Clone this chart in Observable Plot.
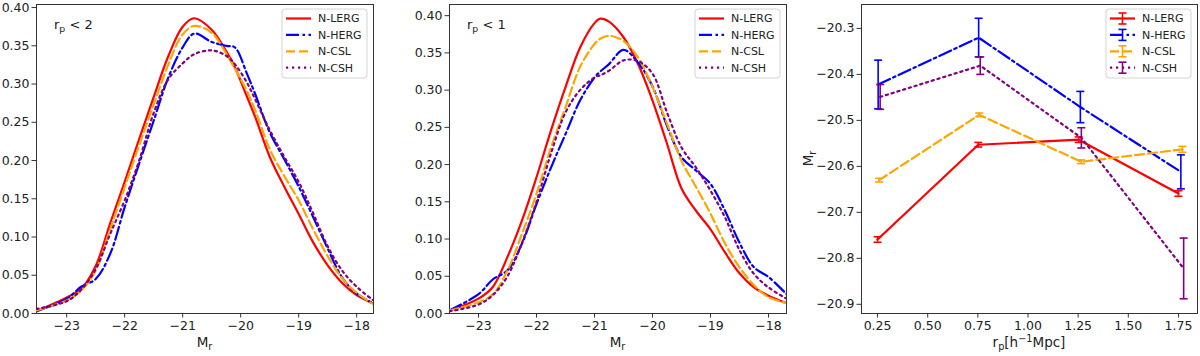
<!DOCTYPE html>
<html><head><meta charset="utf-8">
<script src="https://cdn.jsdelivr.net/npm/d3@7"></script>
<script src="https://cdn.jsdelivr.net/npm/@observablehq/plot@0.6"></script>
<style>
html,body{margin:0;padding:0;background:#fff;}
#wrap{position:relative;width:1200px;height:356px;overflow:hidden;background:#fff;}
.panel{position:absolute;top:0;width:400px;height:356px;}
</style></head><body>
<div id="wrap">
  <div class="panel" id="p1" style="left:0px"></div>
  <div class="panel" id="p2" style="left:400px"></div>
  <div class="panel" id="p3" style="left:800px"></div>
</div>
<script>
// ---------------- data ----------------
const seriesNames = ["N-LERG", "N-HERG", "N-CSL", "N-CSH"];

// Panel 1 : r_p < 2  (KDE of M_r)
const kdeX1 = [-23.52, -23, -22.75, -22.5, -22.25, -22, -21.75, -21.5, -21.25, -21, -20.8, -20.5, -20.25, -20.1, -19.9, -19.75, -19.5, -19.25, -19, -18.75, -18.5, -18.25, -18, -17.71];
const lergP1 = [0.003, 0.021, 0.032, 0.062, 0.118, 0.172, 0.228, 0.283, 0.336, 0.375, 0.386, 0.371, 0.343, 0.322, 0.285, 0.257, 0.205, 0.166, 0.130, 0.093, 0.063, 0.040, 0.024, 0.013];
const hergP1 = [0.003, 0.019, 0.035, 0.045, 0.078, 0.139, 0.196, 0.252, 0.308, 0.348, 0.366, 0.355, 0.350, 0.348, 0.315, 0.287, 0.237, 0.202, 0.166, 0.126, 0.085, 0.047, 0.026, 0.013];
const cslP1  = [0.004, 0.017, 0.030, 0.056, 0.110, 0.165, 0.220, 0.273, 0.325, 0.365, 0.376, 0.367, 0.340, 0.320, 0.292, 0.266, 0.215, 0.180, 0.148, 0.110, 0.075, 0.046, 0.027, 0.012];
const cshP1  = [0.006, 0.016, 0.031, 0.058, 0.104, 0.148, 0.200, 0.262, 0.306, 0.327, 0.339, 0.344, 0.337, 0.326, 0.303, 0.280, 0.240, 0.205, 0.172, 0.131, 0.088, 0.056, 0.035, 0.017];

// Panel 2 : r_p < 1
const kdeX2 = [-23.5, -23, -22.75, -22.5, -22.25, -22, -21.75, -21.5, -21.25, -21, -20.9, -20.75, -20.5, -20.25, -20, -19.75, -19.5, -19.25, -19, -18.75, -18.5, -18.25, -18, -17.69];
const lergP2 = [0.004, 0.020, 0.036, 0.076, 0.125, 0.183, 0.246, 0.304, 0.357, 0.390, 0.396, 0.392, 0.371, 0.335, 0.286, 0.228, 0.168, 0.138, 0.113, 0.082, 0.054, 0.035, 0.024, 0.014];
const hergP2 = [0.004, 0.026, 0.046, 0.058, 0.094, 0.147, 0.196, 0.241, 0.286, 0.317, 0.325, 0.335, 0.354, 0.337, 0.305, 0.252, 0.210, 0.192, 0.174, 0.138, 0.095, 0.062, 0.049, 0.026];
const cslP2  = [0.004, 0.015, 0.026, 0.058, 0.107, 0.161, 0.223, 0.277, 0.331, 0.362, 0.369, 0.373, 0.366, 0.344, 0.304, 0.255, 0.205, 0.170, 0.134, 0.094, 0.062, 0.038, 0.022, 0.014];
const cshP2  = [0.003, 0.012, 0.025, 0.050, 0.095, 0.150, 0.215, 0.270, 0.300, 0.317, 0.320, 0.326, 0.340, 0.339, 0.322, 0.270, 0.223, 0.196, 0.165, 0.129, 0.085, 0.053, 0.035, 0.020];

// Panel 3 : mean M_r vs r_p with errors
const lergRp = [0.250, 0.752, 1.253, 1.750];
const hergRp = [0.253, 0.754, 1.261, 1.762];
const cslRp  = [0.258, 0.757, 1.265, 1.770];
const cshRp  = [0.263, 0.762, 1.266, 1.776];
const lergMr = [-20.759, -20.553, -20.542, -20.659];
const hergMr = [-20.422, -20.320, -20.471, -20.612];
const cslMr  = [-20.630, -20.488, -20.590, -20.563];
const cshMr  = [-20.449, -20.381, -20.538, -20.822];
const lergErr = [0.006, 0.005, 0.006, 0.006];
const hergErr = [0.053, 0.042, 0.034, 0.037];
const cslErr  = [0.004, 0.004, 0.004, 0.0065];
const cshErr  = [0.027, 0.019, 0.022, 0.066];

// tick values
const kdeXTicks = [-23, -22, -21, -20, -19, -18];
const kdeYTicks = [0, 0.05, 0.10, 0.15, 0.20, 0.25, 0.30, 0.35, 0.40];
const rpTicks = [0.25, 0.50, 0.75, 1.00, 1.25, 1.50, 1.75];
const mrTicks = [-20.9, -20.8, -20.7, -20.6, -20.5, -20.4, -20.3];

// ---------------- styles ----------------
const styles = [
  {color: "#ff0000", dash: null},
  {color: "#0000ff", dash: "13,3.5,2.5,3.5"},
  {color: "#ffa500", dash: "9,4"},
  {color: "#800080", dash: "2.2,3.8"}
];
const LW = 2.2;
const FONT = "DejaVu Sans";
const INK = "#222";

function toRows(xs, ys) { return xs.map((x, i) => ({x, y: ys[i]})); }

function addLegend(svg, frameRight, frameTop, withErr) {
  const g = d3.select(svg).append("g").attr("text-anchor", "start");
  const w = 85, h = 69;
  const x0 = frameRight - 6 - w, y0 = frameTop + 5;
  g.append("rect").attr("x", x0).attr("y", y0).attr("width", w).attr("height", h)
    .attr("rx", 3).attr("fill", "white").attr("fill-opacity", 0.85).attr("stroke", "#d4d4d4").attr("stroke-width", 1);
  seriesNames.forEach((name, i) => {
    const yy = y0 + 9.5 + i * 16.4;
    const st = styles[i];
    const ln = g.append("line").attr("x1", x0 + 4).attr("x2", x0 + 29).attr("y1", yy).attr("y2", yy)
      .attr("stroke", st.color).attr("stroke-width", LW);
    if (st.dash) ln.attr("stroke-dasharray", st.dash);
    if (withErr) {
      const cx = x0 + 16.5;
      g.append("line").attr("x1", cx).attr("x2", cx).attr("y1", yy - 5.5).attr("y2", yy + 5.5).attr("stroke", st.color).attr("stroke-width", 1.6);
      g.append("line").attr("x1", cx - 4).attr("x2", cx + 4).attr("y1", yy - 5.5).attr("y2", yy - 5.5).attr("stroke", st.color).attr("stroke-width", 1.6);
      g.append("line").attr("x1", cx - 4).attr("x2", cx + 4).attr("y1", yy + 5.5).attr("y2", yy + 5.5).attr("stroke", st.color).attr("stroke-width", 1.6);
    }
    g.append("text").attr("x", x0 + 36).attr("y", yy).attr("dy", "0.36em").attr("text-anchor", "start")
      .attr("font-family", FONT).attr("font-size", "11px").attr("fill", INK).text(name);
  });
}

function subLabel(svg, x, y, main, sub, size) {
  const t = d3.select(svg).append("text").attr("x", x).attr("y", y)
    .attr("text-anchor", "middle").attr("font-family", FONT).attr("font-size", size).attr("fill", INK);
  t.append("tspan").text(main);
  t.append("tspan").attr("dy", 3).attr("font-size", "0.72em").text(sub);
  return t;
}

function annot(svg, x, y, sub, rest) {
  const t = d3.select(svg).append("text").attr("x", x).attr("y", y).attr("text-anchor", "start")
    .attr("font-family", FONT).attr("font-size", "13px").attr("fill", INK);
  t.append("tspan").text("r");
  t.append("tspan").attr("dy", 3).attr("font-size", "0.72em").text(sub);
  t.append("tspan").attr("dy", -3).text(rest);
}

function kdePanel(el, xs, seriesVals, dom, annotText, m) {
  const W = 400, H = 356;
  const marks = [Plot.frame({stroke: "#333", strokeWidth: 1})];
  seriesVals.forEach((vals, i) => {
    const st = styles[i];
    const o = {x: "x", y: "y", stroke: st.color, strokeWidth: LW, curve: "catmull-rom", clip: true};
    if (st.dash) o.strokeDasharray = st.dash;
    marks.push(Plot.line(toRows(xs, vals), o));
  });
  marks.push(Plot.axisX({ticks: kdeXTicks, tickFormat: d3.format("d"), tickSize: 4.5, tickPadding: 3, label: null, stroke: "#333"}));
  marks.push(Plot.axisY({ticks: kdeYTicks, tickFormat: d3.format(".2f"), tickSize: 4.5, tickPadding: 2.5, label: null, stroke: "#333"}));
  const svg = Plot.plot({
    width: W, height: H,
    marginLeft: m.l, marginRight: m.r, marginTop: m.t, marginBottom: m.b,
    x: {domain: dom.x},
    y: {domain: dom.y},
    style: {fontFamily: FONT, fontSize: "12.5px", color: INK, background: "white"},
    marks
  });
  el.appendChild(svg);
  const fx0 = m.l, fx1 = W - m.r;
  addLegend(svg, fx1, m.t, false);
  annot(svg, fx0 + 18, 29, "p", " < " + annotText);
  subLabel(svg, (fx0 + fx1) / 2, 346.5, "M", "r", "13.5px");
}

kdePanel(document.getElementById("p1"), kdeX1, [lergP1, hergP1, cslP1, cshP1],
  {x: [-23.52, -17.71], y: [0, 0.404]}, "2", {l: 36, r: 27, t: 4, b: 43});
kdePanel(document.getElementById("p2"), kdeX2, [lergP2, hergP2, cslP2, cshP2],
  {x: [-23.5, -17.69], y: [0, 0.415]}, "1", {l: 49, r: 14, t: 4, b: 43});

// ---------------- panel 3 ----------------
(function () {
  const W = 400, H = 356, m = {l: 61, r: 3, t: 4, b: 43};
  const rps = [lergRp, hergRp, cslRp, cshRp];
  const mrs = [lergMr, hergMr, cslMr, cshMr];
  const errs = [lergErr, hergErr, cslErr, cshErr];
  const capSymbol = {draw(ctx, size) { const w = Math.sqrt(size / Math.PI); ctx.moveTo(-w, 0); ctx.lineTo(w, 0); }};
  const marks = [Plot.frame({stroke: "#333", strokeWidth: 1})];
  rps.forEach((xs, i) => {
    const st = styles[i];
    const rows = xs.map((x, j) => ({x, y: mrs[i][j], lo: mrs[i][j] - errs[i][j], hi: mrs[i][j] + errs[i][j]}));
    const o = {x: "x", y: "y", stroke: st.color, strokeWidth: LW};
    if (st.dash) o.strokeDasharray = st.dash;
    marks.push(Plot.line(rows, o));
    marks.push(Plot.ruleX(rows, {x: "x", y1: "lo", y2: "hi", stroke: st.color, strokeWidth: 1.6}));
    marks.push(Plot.dot(rows, {x: "x", y: "lo", symbol: capSymbol, r: 4, stroke: st.color, strokeWidth: 1.6, fill: "none"}));
    marks.push(Plot.dot(rows, {x: "x", y: "hi", symbol: capSymbol, r: 4, stroke: st.color, strokeWidth: 1.6, fill: "none"}));
  });
  marks.push(Plot.axisX({ticks: rpTicks, tickFormat: d3.format(".2f"), tickSize: 4.5, tickPadding: 3, label: null, stroke: "#333"}));
  marks.push(Plot.axisY({ticks: mrTicks, tickFormat: d3.format(".1f"), tickSize: 4.5, tickPadding: 2.5, label: null, stroke: "#333"}));
  const svg = Plot.plot({
    width: W, height: H,
    marginLeft: m.l, marginRight: m.r, marginTop: m.t, marginBottom: m.b,
    x: {domain: [0.17, 1.845]},
    y: {domain: [-20.92, -20.248]},
    style: {fontFamily: FONT, fontSize: "12.5px", color: INK, background: "white"},
    marks
  });
  document.getElementById("p3").appendChild(svg);
  const fx0 = m.l, fx1 = W - m.r;
  addLegend(svg, fx1, m.t, true);
  // x label r_p[h^-1 Mpc]
  const t = d3.select(svg).append("text").attr("x", (fx0 + fx1) / 2).attr("y", 346.5)
    .attr("text-anchor", "middle").attr("font-family", FONT).attr("font-size", "13.5px").attr("fill", INK);
  t.append("tspan").text("r");
  t.append("tspan").attr("dy", 3).attr("font-size", "0.72em").text("p");
  t.append("tspan").attr("dy", -3).text("[h");
  t.append("tspan").attr("dy", -5).attr("font-size", "0.72em").text("\u22121");
  t.append("tspan").attr("dy", 5).text("Mpc]");
  // y label M_r rotated
  const cy = (m.t + (H - m.b)) / 2;
  const ty = d3.select(svg).append("text").attr("transform", `translate(13,${cy}) rotate(-90)`)
    .attr("text-anchor", "middle").attr("font-family", FONT).attr("font-size", "13.5px").attr("fill", INK);
  ty.append("tspan").text("M");
  ty.append("tspan").attr("dy", 3).attr("font-size", "0.72em").text("r");
})();
</script>
</body></html>
